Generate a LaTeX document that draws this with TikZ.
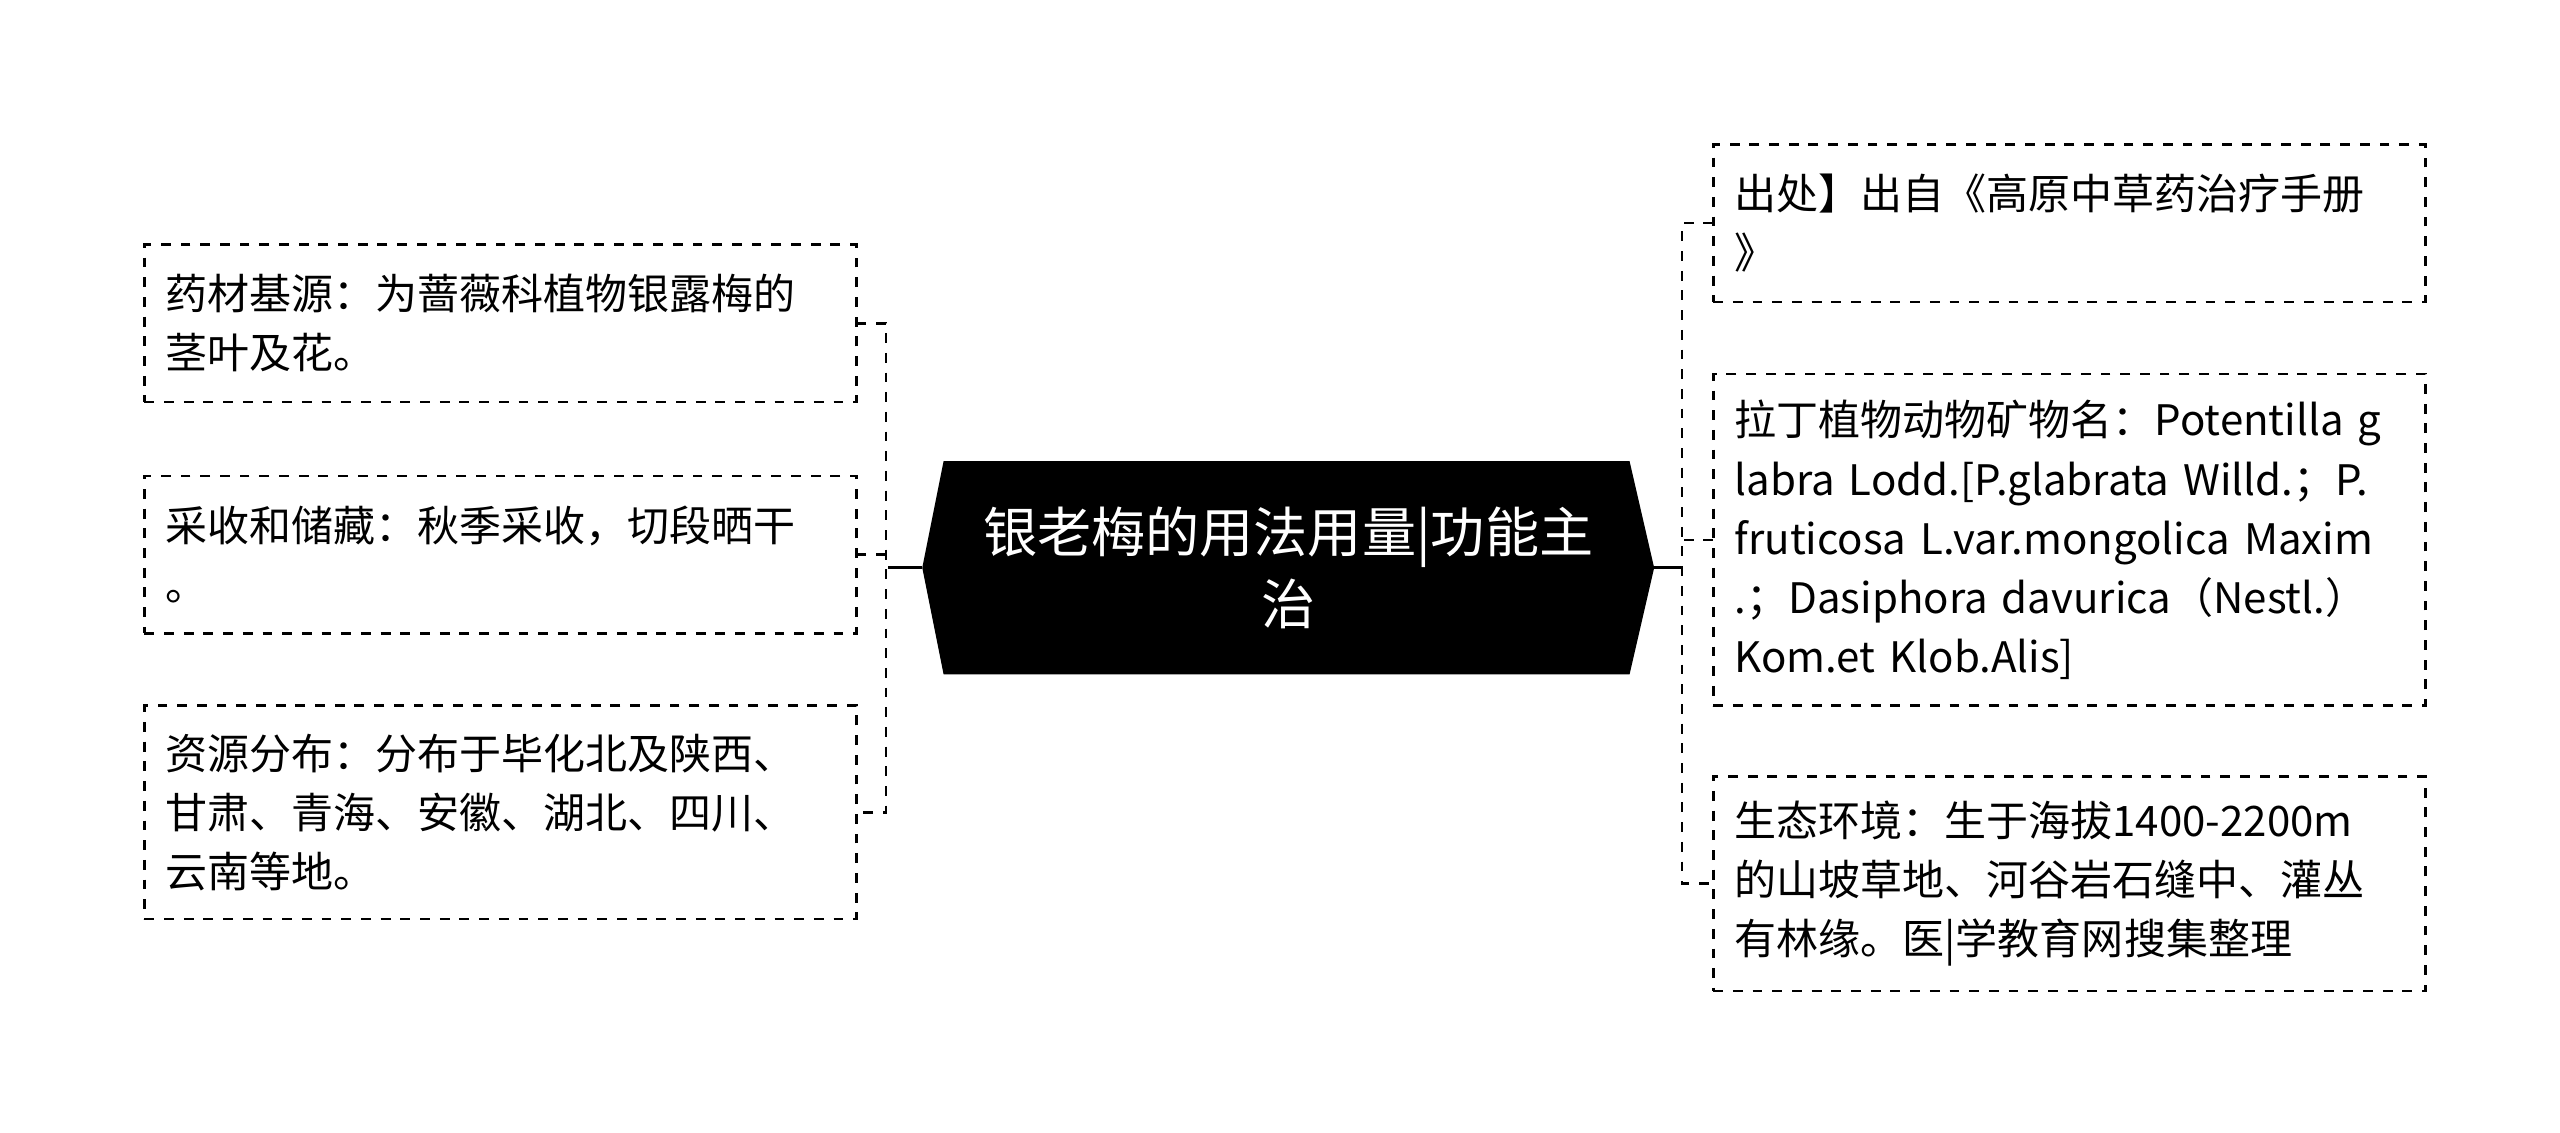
\documentclass[tikz,border=0pt]{standalone}
\usepackage{fontspec}
\setmainfont{Noto Sans CJK SC}
\usetikzlibrary{positioning}

\begin{document}
\begin{tikzpicture}[
		x=0.5pt, y=-0.5pt,
		leaf/.style={draw, dashed, thick, outer sep=0pt, inner xsep=6.5pt, inner ysep=5pt, align=left, anchor=north west, font=\fontsize{12.8pt}{18pt}\selectfont, text width=204pt},
		link/.style={thick, dashed},
	]
		\useasboundingbox (0,0) rectangle (1560,690);
		% root
		\fill (562,346) -- (575,281) -- (993,281) -- (1008,346) -- (993,411) -- (575,411) -- cycle;
		\node[text=white, align=center, font=\fontsize{16.5pt}{22pt}\selectfont] (root) at (785,346) {银老梅的用法用量|功能主\\治};
		\coordinate (rl) at (562,346);
		\coordinate (rr) at (1008,346);

		% left side
		\node[leaf, minimum height=48pt] (base) at (88,149) {药材基源：为蔷薇科植物银露梅的\\茎叶及花。};
		\node[leaf, minimum height=48pt] (harv) at (88,290) {采收和储藏：秋季采收，切段晒干\\。};
		\node[leaf, minimum height=65pt] (dist) at (88,430) {资源分布：分布于毕化北及陕西、\\甘肃、青海、安徽、湖北、四川、\\云南等地。};

		% right side
		\node[leaf, minimum height=48pt] (src) at (1044,88) {出处】出自《高原中草药治疗手册\\》};
		\node[leaf, minimum height=101pt] (latin) at (1044,228) {拉丁植物动物矿物名：Potentilla g\\labra Lodd.[P.glabrata Willd.；P.\\fruticosa L.var.mongolica Maxim\\.；Dasiphora davurica（Nestl.）\\Kom.et Klob.Alis]};
		\node[leaf, minimum height=65.5pt] (env) at (1044,473) {生态环境：生于海拔1400-2200m\\的山坡草地、河谷岩石缝中、灌丛\\有林缘。医|学教育网搜集整理};

		\draw[thick] (rl) -- ++(-21,0);
		\draw[thick] (rr) -- ++(17,0);
		\draw[link] (base.east) -- ++(18,0) |- (dist.east);
		\draw[link] (harv.east) -- ++(18,0);
		\draw[link] (src.west) -- ++(-19,0) |- (env.west);
		\draw[link] (latin.west) -- ++(-19,0);
	\end{tikzpicture}
\end{document}
